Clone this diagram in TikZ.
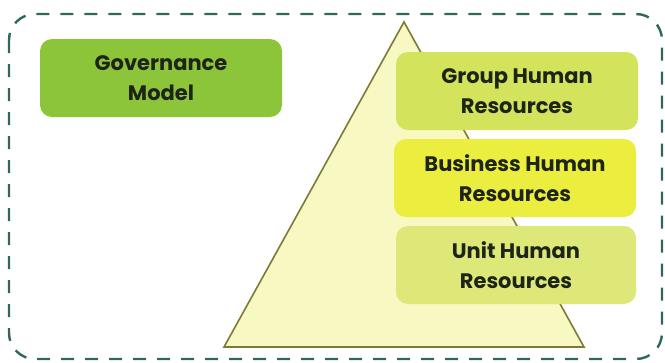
\documentclass[tikz,border=0pt]{standalone}
\usepackage{fontspec}
\setmainfont{Poppins}
\begin{document}
\begin{tikzpicture}[x=1pt,y=-1pt,
  frame/.style={draw=framegreen,line width=2.4pt,dash pattern=on 13pt off 11pt,rounded corners=26pt},
  tierbox/.style={rounded corners=12pt,minimum width=242pt,minimum height=78pt,
    align=center,font=\fontsize{21}{30}\selectfont\bfseries,text=textdark,inner sep=0pt},
  pyramid/.style={fill=pyrfill,draw=pyredge,line width=1.6pt,line join=miter}]
\definecolor{framegreen}{HTML}{2F6A4F}
\definecolor{govgreen}{HTML}{8CC43A}
\definecolor{groupgreen}{HTML}{D3E35C}
\definecolor{busyellow}{HTML}{EBEE3E}
\definecolor{unitgreen}{HTML}{DDE878}
\definecolor{pyrfill}{HTML}{F8F8C2}
\definecolor{pyredge}{HTML}{7E7A35}
\definecolor{textdark}{HTML}{1E2418}
\useasboundingbox (0,0) rectangle (665,362);
% dashed outer frame
\draw[frame] (9,14) rectangle (662,359);
% pyramid
\coordinate (apex) at (404,22);
\coordinate (bl) at (224,347);
\coordinate (br) at (584,347);
\draw[pyramid] (apex) -- (bl) -- (br) -- cycle;
% boxes
\node[tierbox,fill=govgreen] (gov) at (161,78) {Governance\\Model};
\node[tierbox,fill=groupgreen] (group) at (517,91) {Group Human\\Resources};
\node[tierbox,fill=busyellow] (business) at (515,178) {Business Human\\Resources};
\node[tierbox,fill=unitgreen,minimum width=240pt] (unit) at (516,265) {Unit Human\\Resources};
\end{tikzpicture}
\end{document}
